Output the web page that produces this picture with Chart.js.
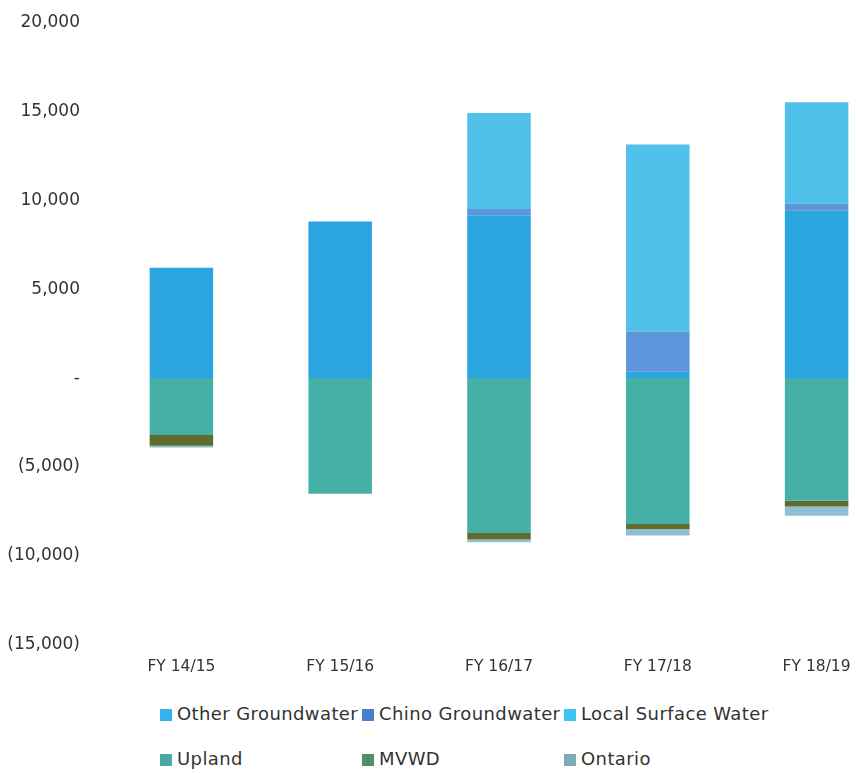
<!DOCTYPE html>
<html>
<head>
<meta charset="utf-8">
<script src="https://cdn.jsdelivr.net/npm/chart.js@4.4.0/dist/chart.umd.min.js"></script>
<style>
  body { margin: 0; background: #fff; overflow: hidden; width: 856px; height: 773px; }
  #wrap { position: absolute; left: 0; top: -10px; width: 900px; height: 697px; }
  #legend { position: absolute; left: 160px; top: 703px; font-family: "DejaVu Sans", sans-serif; font-size: 18px; letter-spacing: 0.4px; color: #333; }
  .row { display: flex; height: 45px; align-items: flex-start; }
  .item { width: 202px; display: flex; align-items: center; white-space: nowrap; }
  .box { flex-shrink: 0; width: 12px; height: 12px; margin-right: 5px; margin-top: 3px; }
</style>
</head>
<body>
<div id="wrap"><canvas id="myChart"></canvas></div>
<div id="legend"></div>
<script>
const categories = ['FY 14/15', 'FY 15/16', 'FY 16/17', 'FY 17/18', 'FY 18/19']

const otherGroundwater = [6200, 8800, 9150, 350, 9400]
const chinoGroundwater = [0, 0, 350, 2270, 400]
const localSurfaceWater = [0, 0, 5400, 10500, 5700]
const upland = [-3200, -6500, -8700, -8200, -6900]
const mvwd = [-600, 0, -370, -280, -320]
const ontario = [-100, 0, -150, -370, -520]

const yTicks = [20000, 15000, 10000, 5000, 0, -5000, -10000, -15000]

const series = [
    { label: 'Other Groundwater', data: otherGroundwater, color: '#2ba5df', key: '#33b3ea' },
    { label: 'Chino Groundwater', data: chinoGroundwater, color: '#5e95da', key: '#4a7fca' },
    { label: 'Local Surface Water', data: localSurfaceWater, color: '#4fc1ea', key: '#3fc3ef' },
    { label: 'Upland', data: upland, color: '#45b1a6', key: '#4aaaa3' },
    { label: 'MVWD', data: mvwd, color: '#5f6c2e', key: '#4f8f6a' },
    { label: 'Ontario', data: ontario, color: '#8fbfd0', key: '#7faab8' }
]

const formatTick = (v) => {
    if (v === 0) return '-'
    const s = Math.abs(v).toLocaleString('en-US')
    return v < 0 ? `(${s})` : s
}

const datasets = series.map(s => ({
    label: s.label,
    data: s.data,
    backgroundColor: s.color,
    borderWidth: 0,
    barPercentage: 0.8,
    categoryPercentage: 0.5
}))

const config = {
    type: 'bar',
    data: { labels: categories, datasets },
    options: {
        responsive: true,
        maintainAspectRatio: false,
        animation: false,
        layout: { padding: { top: 0, right: 4, left: 0, bottom: 0 } },
        plugins: { legend: { display: false }, tooltip: { enabled: false } },
        scales: {
            x: {
                stacked: true,
                grid: { display: false },
                border: { display: false },
                ticks: { color: '#333', font: { family: 'DejaVu Sans', size: 15.5 }, padding: 5 },
                afterFit: (axis) => { axis.height = 42 }
            },
            y: {
                stacked: true,
                min: -15000,
                max: 20000,
                afterBuildTicks: (axis) => { axis.ticks = yTicks.map(v => ({ value: v })) },
                grid: { display: false, drawTicks: false },
                border: { display: false },
                ticks: { color: '#333', font: { family: 'DejaVu Sans', size: 17 }, padding: 22, callback: formatTick },
                afterFit: (axis) => { axis.width = 102 }
            }
        }
    }
}

const myChart = new Chart(document.getElementById('myChart'), config)

// legend laid out in columns like the original
const legend = document.getElementById('legend')
for (let r = 0; r < 2; r++) {
    const row = document.createElement('div')
    row.className = 'row'
    series.slice(r * 3, r * 3 + 3).forEach(s => {
        row.innerHTML += `<div class="item"><span class="box" style="background:${s.key}"></span>${s.label}</div>`
    })
    legend.appendChild(row)
}
</script>
</body>
</html>
